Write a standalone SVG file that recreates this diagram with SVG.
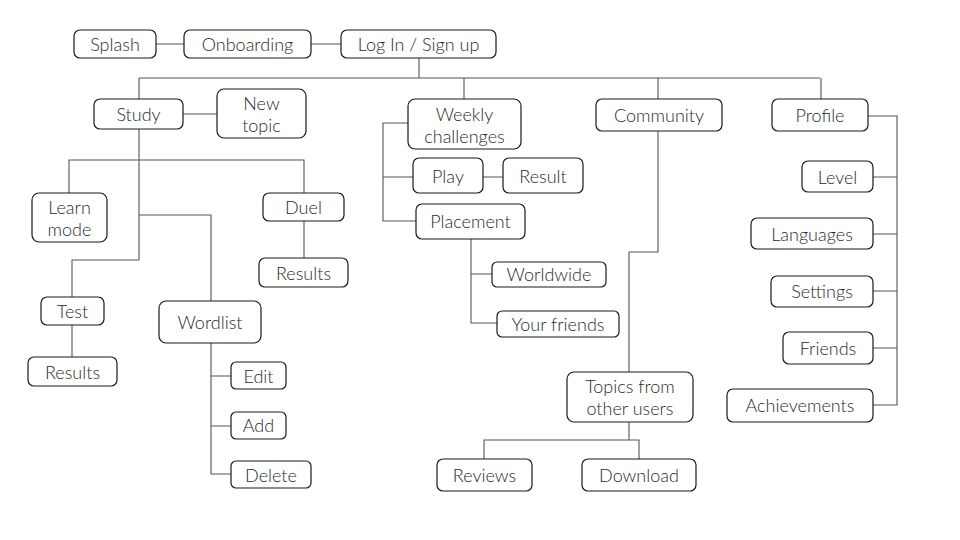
<svg xmlns="http://www.w3.org/2000/svg" width="960" height="540" viewBox="0 0 960 540">
<style>
.n rect{fill:#fff;stroke:#1a1a1a;stroke-width:1.2}
.n text{font-family:Lato,"Open Sans","Liberation Sans",sans-serif;font-weight:300;font-size:18px;fill:#2a2a2a;text-anchor:middle}
.c path{fill:none;stroke:#555;stroke-width:1.1}
</style>
<rect width="960" height="540" fill="#fff"/>
<g class="c" id="connectors">
<path d="M156 44H184M311 44H341"/>
<path d="M419 58V78M139 78H820M139 78V99M464 78V99M658 78V99M821 78V99"/>
<path d="M183 114H217"/>
<path d="M139 129V260H72V297"/>
<path d="M69 193V160H304V193M139 215H211V301"/>
<path d="M304 221V258M72 325V357"/>
<path d="M211 343V474H231M211 376H231M211 426H231"/>
<path d="M408 123H383V221H416M383 177H413M483 177H503"/>
<path d="M471 239V323H497M471 274H492"/>
<path d="M658 131V252H629V372"/>
<path d="M629 422V440M484 459V440H639V459"/>
<path d="M868 116H897V405H873M873 177H897M873 234H897M873 291H897M873 348H897"/>
</g>
<g class="n" id="splash"><rect x="74" y="30" width="82" height="28" rx="6"/><text x="115" y="51">Splash</text></g>
<g class="n" id="onboarding"><rect x="184" y="30" width="127" height="28" rx="6"/><text x="247.5" y="51">Onboarding</text></g>
<g class="n" id="login"><rect x="341" y="30" width="155" height="28" rx="6"/><text x="418.5" y="51">Log In / Sign up</text></g>
<g class="n" id="study"><rect x="94" y="99" width="89" height="30" rx="6"/><text x="138.5" y="121">Study</text></g>
<g class="n" id="newtopic"><rect x="217" y="89" width="89" height="49" rx="7"/><text x="261.5" y="110">New</text><text x="261.5" y="132">topic</text></g>
<g class="n" id="learnmode"><rect x="32" y="193" width="75" height="49" rx="7"/><text x="69.5" y="214">Learn</text><text x="69.5" y="236">mode</text></g>
<g class="n" id="duel"><rect x="263" y="193" width="81" height="28" rx="6"/><text x="303.5" y="214">Duel</text></g>
<g class="n" id="duelresults"><rect x="259" y="258" width="89" height="29" rx="6"/><text x="303.5" y="280">Results</text></g>
<g class="n" id="test"><rect x="41" y="297" width="63" height="28" rx="6"/><text x="72.5" y="318">Test</text></g>
<g class="n" id="testresults"><rect x="28" y="357" width="89" height="29" rx="6"/><text x="72.5" y="379">Results</text></g>
<g class="n" id="wordlist"><rect x="159" y="301" width="102" height="42" rx="7"/><text x="210" y="329">Wordlist</text></g>
<g class="n" id="edit"><rect x="231" y="362" width="55" height="27" rx="5"/><text x="258.5" y="383">Edit</text></g>
<g class="n" id="add"><rect x="231" y="412" width="55" height="27" rx="5"/><text x="258.5" y="432">Add</text></g>
<g class="n" id="delete"><rect x="231" y="461" width="80" height="27" rx="5"/><text x="271" y="482">Delete</text></g>
<g class="n" id="weekly"><rect x="408" y="99" width="113" height="50" rx="7"/><text x="464.5" y="121">Weekly</text><text x="464.5" y="143">challenges</text></g>
<g class="n" id="play"><rect x="413" y="158" width="70" height="35" rx="6"/><text x="448" y="183">Play</text></g>
<g class="n" id="result"><rect x="503" y="158" width="80" height="35" rx="6"/><text x="543" y="183">Result</text></g>
<g class="n" id="placement"><rect x="416" y="204" width="109" height="35" rx="6"/><text x="470.5" y="228">Placement</text></g>
<g class="n" id="worldwide"><rect x="492" y="262" width="114" height="25" rx="5"/><text x="549" y="281">Worldwide</text></g>
<g class="n" id="yourfriends"><rect x="497" y="311" width="122" height="26" rx="5"/><text x="558" y="331">Your friends</text></g>
<g class="n" id="community"><rect x="596" y="99" width="126" height="32" rx="6"/><text x="659" y="122">Community</text></g>
<g class="n" id="topics"><rect x="567" y="372" width="126" height="50" rx="7"/><text x="630" y="393">Topics from</text><text x="630" y="415">other users</text></g>
<g class="n" id="reviews"><rect x="437" y="459" width="95" height="32" rx="6"/><text x="484.5" y="482">Reviews</text></g>
<g class="n" id="download"><rect x="582" y="459" width="114" height="32" rx="6"/><text x="639" y="482">Download</text></g>
<g class="n" id="profile"><rect x="772" y="99" width="96" height="32" rx="6"/><text x="820" y="122">Profile</text></g>
<g class="n" id="level"><rect x="802" y="161" width="71" height="31" rx="6"/><text x="837.5" y="184">Level</text></g>
<g class="n" id="languages"><rect x="751" y="218" width="122" height="31" rx="6"/><text x="812" y="241">Languages</text></g>
<g class="n" id="settings"><rect x="771" y="276" width="102" height="31" rx="6"/><text x="822" y="298">Settings</text></g>
<g class="n" id="friends"><rect x="783" y="332" width="90" height="32" rx="6"/><text x="828" y="355">Friends</text></g>
<g class="n" id="achievements"><rect x="727" y="389" width="146" height="33" rx="6"/><text x="800" y="412">Achievements</text></g>
</svg>
